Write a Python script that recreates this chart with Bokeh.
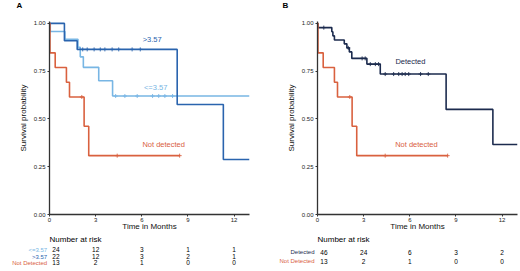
from bokeh.plotting import figure
from bokeh.layouts import row, column
from bokeh.models import Range1d, FixedTicker, Label, NumeralTickFormatter
from bokeh.core.properties import value
from bokeh.embed import file_html
from bokeh.resources import INLINE

# ---------------- data ----------------
# Panel A: KM curves by marker level
hi_time = [0, 0.97, 1.8, 8.3, 11.3, 13.0]
hi_surv = [1.0, 0.909, 0.864, 0.576, 0.288, 0.288]
hi_cens = [2.16, 2.45, 2.9, 3.3, 3.6, 4.07, 4.5, 5.37, 5.9]

lo_time = [0, 0.05, 1.0, 1.85, 2.0, 2.2, 3.2, 4.1, 13.0]
lo_surv = [1.0, 0.958, 0.917, 0.875, 0.825, 0.77, 0.70, 0.62, 0.62]
lo_cens = [4.3, 4.9, 5.7, 6.7, 7.1, 7.5, 8.0]

nd_time = [0, 0.03, 0.37, 1.1, 1.3, 2.25, 2.55, 8.46]
nd_surv = [1.0, 0.846, 0.769, 0.692, 0.615, 0.462, 0.308, 0.308]
nd_cens = [2.1, 4.4, 8.46]

# Panel B: detected vs not detected
det_time = [0, 0.03, 0.93, 1.0, 1.1, 1.74, 1.91, 2.07, 2.23, 3.21, 4.08, 8.36, 11.4, 13.0]
det_surv = [1.0, 0.978, 0.956, 0.935, 0.913, 0.893, 0.872, 0.851, 0.817, 0.787, 0.735, 0.55, 0.366, 0.366]
det_cens = [0.41, 2.0, 2.9, 3.1, 3.43, 3.76, 3.97, 4.4, 4.95, 5.28, 5.5, 5.7, 5.93, 6.7, 7.2]

# Risk tables
risk_times = [0, 3, 6, 9, 12]
risk_lo = [24, 12, 3, 1, 1]
risk_hi = [22, 12, 3, 2, 1]
risk_nd = [13, 2, 1, 0, 0]
risk_det = [46, 24, 6, 3, 2]

y_ticks = [0, 0.25, 0.5, 0.75, 1.0]
x_ticks = [0, 3, 6, 9, 12]

# ---------------- style ----------------
FONT = "Liberation Sans"
C_HI = "#2a64ae"
C_LO = "#78b6e4"
C_ND = "#d9613f"
C_DET = "#1c2b4e"
AX = "#333333"
X_END = 13.0
FRAME_W = 200
PPM = FRAME_W / X_END
STRIP_H = 16
FRAME_TOP = 21
FRAME_BOTTOM = 214
MAIN_H = 235 - STRIP_H
RISK_H = 271 - MAIN_H - STRIP_H
LEFT_A, RIGHT_A = 49, 11
LEFT_B, RIGHT_B = 57, 3


def surv_at(times, survs, t):
    s = survs[0]
    for ti, si in zip(times, survs):
        if ti <= t:
            s = si
    return s


def strip_figure(h):
    f = figure(width=520, height=h, output_backend="svg", toolbar_location=None,
               x_axis_type=None, y_axis_type=None,
               x_range=Range1d(-LEFT_A / PPM, (520 - LEFT_A) / PPM),
               y_range=Range1d(0, h),
               min_border_left=0, min_border_right=0, min_border_top=0,
               min_border_bottom=0)
    f.extra_x_ranges = {"B": Range1d(-(260 + LEFT_B) / PPM, (260 - LEFT_B) / PPM)}
    f.grid.visible = False
    f.outline_line_color = None
    f.background_fill_color = "white"
    f.border_fill_color = "white"
    return f


def make_main(left, right, curves, labels):
    p = figure(width=260, height=MAIN_H, output_backend="svg", toolbar_location=None,
               x_range=Range1d(0, X_END), y_range=Range1d(0, 1.01),
               min_border_left=left, min_border_right=right,
               min_border_top=FRAME_TOP - STRIP_H,
               min_border_bottom=MAIN_H - (FRAME_BOTTOM - STRIP_H))
    p.outline_line_color = None
    p.grid.visible = False
    p.background_fill_color = "white"
    p.border_fill_color = "white"

    for t, s, cens, col in curves:
        p.step(t, s, mode="after", line_width=1.6, line_color=col)
        p.scatter(cens, [surv_at(t, s, c) for c in cens], marker="cross",
                  size=4, line_color=col, line_width=0.9)

    for ax in (p.xaxis[0], p.yaxis[0]):
        ax.axis_line_color = AX
        ax.axis_line_width = 1.3
        ax.major_tick_line_color = AX
        ax.major_tick_in = 0
        ax.major_tick_out = 2
        ax.minor_tick_line_color = None
        ax.major_label_text_font = FONT
        ax.major_label_text_font_size = "6px"
        ax.major_label_text_color = "#222222"
        ax.axis_label_text_font = FONT
        ax.axis_label_text_font_size = "8px"
        ax.axis_label_text_font_style = "normal"
        ax.axis_label_text_color = "#111111"
    p.xaxis.ticker = FixedTicker(ticks=x_ticks)
    p.yaxis.ticker = FixedTicker(ticks=y_ticks)
    p.yaxis.formatter = NumeralTickFormatter(format="0.00")
    p.xaxis.axis_label = "Time in Months"
    p.yaxis.axis_label = "Survival probability"
    p.xaxis.major_label_standoff = 1
    p.xaxis.axis_label_standoff = -3
    p.yaxis.major_label_standoff = 2
    p.yaxis.axis_label_standoff = 3

    for text, x, y, col in labels:
        p.add_layout(Label(x=x, y=y, text=text, text_color=col, text_font=FONT,
                           text_font_size="7.5px", text_align="center",
                           text_baseline="middle"))
    return p


# panel letters strip
letters = strip_figure(STRIP_H)
letters.text(x=[-30 / PPM], y=[STRIP_H - 5], text=["A"], text_font=value(FONT),
             text_font_size="8px", text_font_style="bold", text_color="black",
             text_align="center", text_baseline="middle")
letters.text(x=[-32 / PPM], y=[STRIP_H - 5], text=["B"], text_font=value(FONT),
             text_font_size="8px", text_font_style="bold", text_color="black",
             text_align="center", text_baseline="middle", x_range_name="B")

# risk-table strip
risk = strip_figure(RISK_H)


def add_risk(range_name, rows, row_top, label_gap):
    risk.text(x=[0], y=[RISK_H - 4], text=["Number at risk"], text_font=value(FONT),
              text_font_size="8px", text_color="black", text_align="left",
              text_baseline="middle", x_range_name=range_name)
    for (name, counts, col), top in zip(rows, row_top):
        y = RISK_H - top
        risk.text(x=[-label_gap / PPM], y=[y], text=[name], text_font=value(FONT),
                  text_font_size="6px", text_color=col, text_align="right",
                  text_baseline="middle", x_range_name=range_name)
        risk.text(x=[max(t, 0.42) for t in risk_times], y=[y] * len(counts),
                  text=[str(n) for n in counts], text_font=value(FONT),
                  text_font_size="6.5px", text_color="black", text_align="center",
                  text_baseline="middle", x_range_name=range_name)


pA = make_main(
    LEFT_A, RIGHT_A,
    [(lo_time, lo_surv, lo_cens, C_LO), (hi_time, hi_surv, hi_cens, C_HI),
     (nd_time, nd_surv, nd_cens, C_ND)],
    [(">3.57", 6.67, 0.915, C_HI), ("<=3.57", 6.9, 0.663, C_LO),
     ("Not detected", 7.42, 0.366, C_ND)],
)
add_risk("default",
         [("<=3.57", risk_lo, C_LO), (">3.57", risk_hi, C_HI),
          ("Not Detected", risk_nd, C_ND)],
         [14, 21, 27], 2.3)

pB = make_main(
    LEFT_B, RIGHT_B,
    [(det_time, det_surv, det_cens, C_DET), (nd_time, nd_surv, nd_cens, C_ND)],
    [("Detected", 6.04, 0.80, C_DET), ("Not detected", 6.43, 0.366, C_ND)],
)
add_risk("B",
         [("Detected", risk_det, C_DET), ("Not Detected", risk_nd, C_ND)],
         [16.7, 25.7], 3)

layout = column(letters, row(pA, pB), risk)
open("out.html", "w").write(file_html(layout, INLINE))
